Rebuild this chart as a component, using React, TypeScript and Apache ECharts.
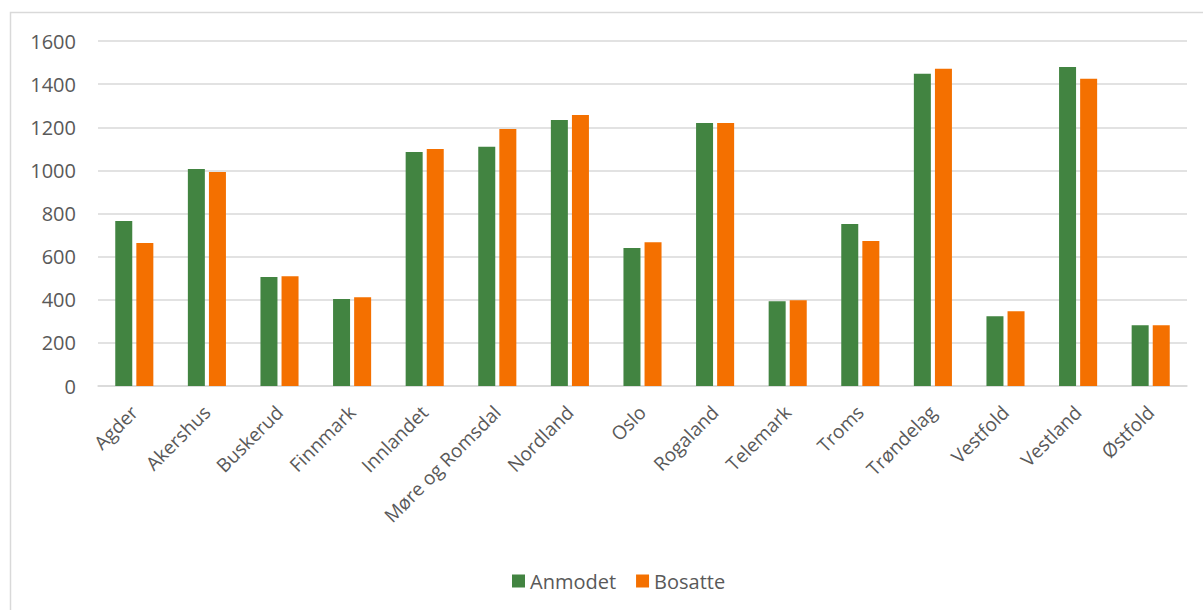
import React, { useEffect, useRef } from "react";
import * as echarts from "echarts";

const categories = [
  "Agder", "Akershus", "Buskerud", "Finnmark", "Innlandet", "Møre og Romsdal",
  "Nordland", "Oslo", "Rogaland", "Telemark", "Troms", "Trøndelag",
  "Vestfold", "Vestland", "Østfold",
];
const anmodet = [765, 1006, 505, 403, 1085, 1109, 1234, 640, 1220, 393, 751, 1448, 324, 1480, 282];
const bosatte = [663, 993, 509, 412, 1099, 1192, 1257, 667, 1220, 398, 672, 1471, 347, 1425, 282];
const yTicks = { min: 0, max: 1600, interval: 200 };

export default function App() {
  const ref = useRef<HTMLDivElement>(null);
  useEffect(() => {
    if (!ref.current) return;
    const chart = echarts.init(ref.current, undefined, { renderer: "svg" });
    const font = "'Open Sans', 'Noto Sans', sans-serif";
    chart.setOption({
      animation: false,
      textStyle: { fontFamily: font },
      graphic: [
        {
          type: "rect",
          shape: { x: 10.5, y: 12.5, width: 1300, height: 700 },
          style: { fill: "none", stroke: "#d9d9d9", lineWidth: 1.5 },
          silent: true,
        },
      ],
      grid: { left: 98, right: 16, top: 41, bottom: 224, containLabel: false },
      legend: {
        data: ["Anmodet", "Bosatte"],
        left: 507,
        top: 566,
        itemWidth: 13,
        itemHeight: 13,
        itemGap: 20,
        icon: "rect",
        textStyle: { color: "#595959", fontSize: 20, fontFamily: font },
      },
      xAxis: {
        type: "category",
        data: categories,
        axisLine: { lineStyle: { color: "#d9d9d9", width: 1.5 } },
        axisTick: { show: false },
        axisLabel: {
          rotate: 45,
          interval: 0,
          margin: 23,
          color: "#595959",
          fontSize: 19,
          fontFamily: font,
        },
      },
      yAxis: {
        type: "value",
        min: yTicks.min,
        max: yTicks.max,
        interval: yTicks.interval,
        axisLine: { show: false },
        axisTick: { show: false },
        splitLine: { lineStyle: { color: "#d9d9d9", width: 1.5 } },
        axisLabel: {
          color: "#595959",
          fontSize: 20,
          margin: 22,
          fontFamily: font,
          formatter: (v: number) => String(v),
        },
      },
      series: [
        {
          name: "Anmodet",
          type: "bar",
          data: anmodet,
          barWidth: 17,
          barGap: "24%",
          itemStyle: { color: "#428441" },
        },
        {
          name: "Bosatte",
          type: "bar",
          data: bosatte,
          barWidth: 17,
          itemStyle: { color: "#F47000" },
        },
      ],
    });
    return () => chart.dispose();
  }, []);
  return (
    <div
      ref={ref}
      style={{ position: "fixed", left: 0, top: 0, width: 1203, height: 610, background: "#fff" }}
    />
  );
}
